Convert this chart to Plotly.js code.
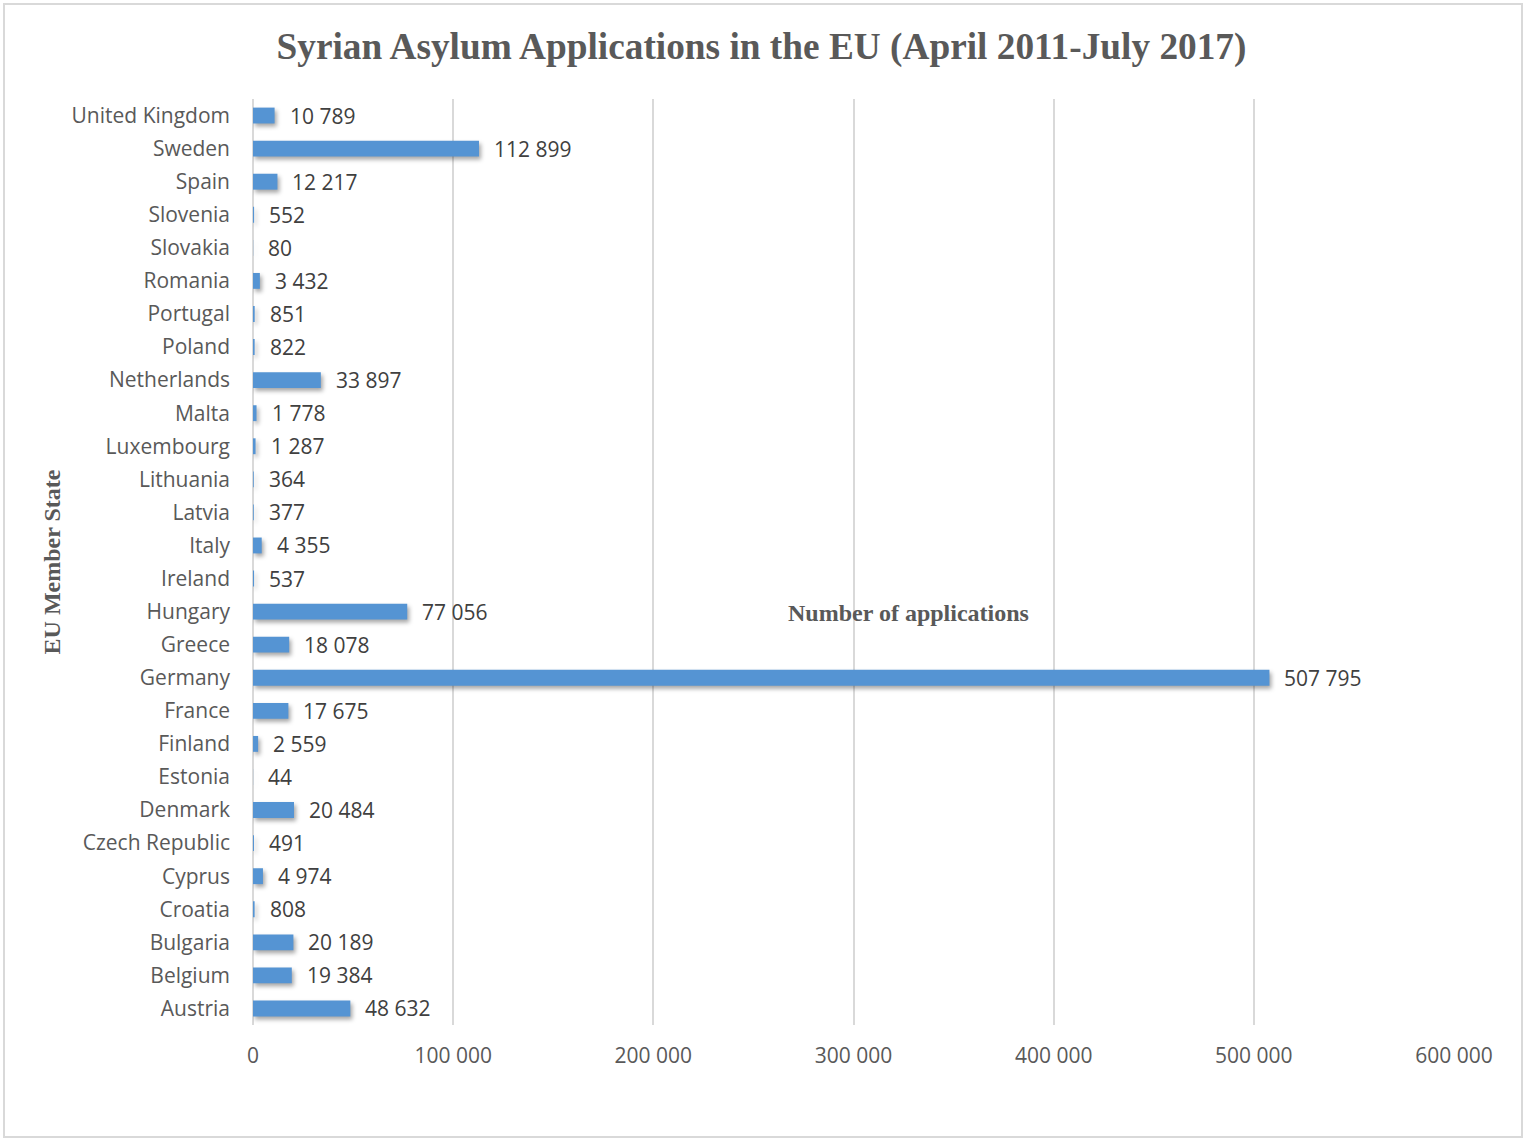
<!DOCTYPE html>
<html>
<head>
<meta charset="utf-8">
<script src="https://cdn.plot.ly/plotly-3.0.1.min.js"></script>
<style>
html,body{margin:0;padding:0;background:#fff;}
#wrap{position:relative;width:1523px;height:1138px;}
#chart{width:1523px;height:1138px;}
#frame{position:absolute;left:3px;top:3px;width:1516px;height:1131px;border:2px solid #d9d9d9;pointer-events:none;}
.bars path{filter:drop-shadow(2px 3px 2px rgba(0,0,0,0.35));}
</style>
</head>
<body>
<div id="wrap"><div id="chart"></div><div id="frame"></div></div>
<script>
const countries = ["Austria","Belgium","Bulgaria","Croatia","Cyprus","Czech Republic","Denmark","Estonia","Finland","France","Germany","Greece","Hungary","Ireland","Italy","Latvia","Lithuania","Luxembourg","Malta","Netherlands","Poland","Portugal","Romania","Slovakia","Slovenia","Spain","Sweden","United Kingdom"];
const applications = [48632,19384,20189,808,4974,491,20484,44,2559,17675,507795,18078,77056,537,4355,377,364,1287,1778,33897,822,851,3432,80,552,12217,112899,10789];
const xTicks = [0,100000,200000,300000,400000,500000,600000];

function fmt(v){return String(v).replace(/\B(?=(\d{3})+(?!\d))/g,' ');}

const labelFont = {family:'"Open Sans", "Noto Sans", sans-serif', size:21, color:'#404040'};
const serif = '"Liberation Serif", "Times New Roman", serif';

const annotations = countries.map((c,i)=>({
  x: applications[i], y: c, xref:'x', yref:'y',
  text: fmt(applications[i]), showarrow:false, xanchor:'left', yanchor:'middle',
  xshift: 13, font: labelFont
}));
annotations.push({
  xref:'paper', yref:'paper', x:0.546, y:0.445, text:'<b>Number of applications</b>',
  showarrow:false, xanchor:'center', yanchor:'middle',
  font:{family:serif, size:24, color:'#595959'}
});

const trace = {
  type:'bar', orientation:'h', y:countries, x:applications,
  width:0.48,
  marker:{color:'#5594d3', line:{width:0}},
  hoverinfo:'x+y'
};

const layout = {
  width:1523, height:1138,
  margin:{l:253, r:69, t:99, b:113},
  paper_bgcolor:'#ffffff', plot_bgcolor:'#ffffff',
  separators:', ',
  showlegend:false,
  title:{text:'<b>Syrian Asylum Applications in the EU (April 2011-July 2017)</b>',
    font:{family:serif, size:37.3, color:'#595959'}, x:0.5, xanchor:'center', y:0.96, yanchor:'middle'},
  xaxis:{range:[0,600000], tickvals:xTicks, ticktext:xTicks.map(fmt),
    showgrid:true, gridcolor:'#d9d9d9', gridwidth:2, zeroline:true, zerolinecolor:'#d9d9d9', zerolinewidth:2,
    showline:false, ticks:'', ticklabelstandoff:16,
    tickfont:{family:'"Open Sans", "Noto Sans", sans-serif', size:21, color:'#595959'}, fixedrange:true},
  yaxis:{type:'category', categoryorder:'array', categoryarray:countries, showgrid:false, zeroline:false,
    showline:false, ticks:'', ticklabelstandoff:22,
    tickfont:{family:'"Open Sans", "Noto Sans", sans-serif', size:21, color:'#595959'},
    title:{text:'<b>EU Member State</b>', font:{family:serif, size:24, color:'#595959'}, standoff:4},
    fixedrange:true},
  annotations: annotations
};

Plotly.newPlot('chart',[trace],layout,{displayModeBar:false, staticPlot:true});
</script>
</body>
</html>
